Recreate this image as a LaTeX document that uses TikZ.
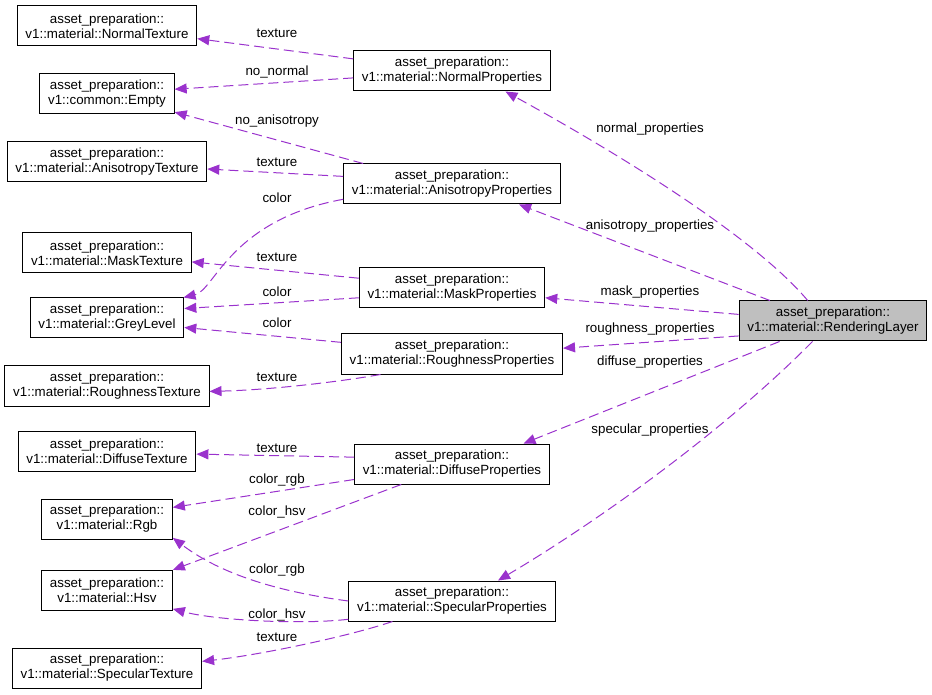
\documentclass[tikz,border=0pt]{standalone}
\usepackage{fontspec}
\setmainfont{Liberation Sans}
\usetikzlibrary{arrows.meta}
\definecolor{edgepurple}{HTML}{9A32CD}
\definecolor{layergrey}{HTML}{BFBFBF}
\newcommand{\apcls}[1]{asset\_preparation::\\v1::#1}

\begin{document}
\begin{tikzpicture}[x=0.75pt,y=-0.75pt,
  box/.style={draw=black, line width=0.75pt, fill=white, align=center,
    minimum height=30pt, inner xsep=6.2pt, font=\fontsize{10}{11.25}\selectfont},
  dep/.style={edgepurple, line width=0.75pt, dash pattern=on 7.5pt off 3.75pt,
    -{Triangle[length=9pt,width=7.5pt]}},
  lbl/.style={anchor=base, inner sep=0pt, font=\fontsize{10}{11.25}\selectfont}]

\useasboundingbox (0,0) rectangle (932,695);

% Member classes
\node[box] (ntex)  at (107,26)  {\apcls{material::NormalTexture}};
\node[box] (empty) at (107,94)  {\apcls{common::Empty}};
\node[box] (atex)  at (107,162) {\apcls{material::AnisotropyTexture}};
\node[box] (mtex)  at (107,253) {\apcls{material::MaskTexture}};
\node[box] (grey)  at (107,318) {\apcls{material::GreyLevel}};
\node[box] (rtex)  at (107,386) {\apcls{material::RoughnessTexture}};
\node[box] (dtex)  at (107,451) {\apcls{material::DiffuseTexture}};
\node[box] (rgb)   at (107,519) {\apcls{material::Rgb}};
\node[box] (hsv)   at (107,590) {\apcls{material::Hsv}};
\node[box] (stex)  at (107,668) {\apcls{material::SpecularTexture}};

% Property classes
\node[box] (nprop) at (452,71)  {\apcls{material::NormalProperties}};
\node[box] (aprop) at (452,184) {\apcls{material::AnisotropyProperties}};
\node[box] (mprop) at (452,288) {\apcls{material::MaskProperties}};
\node[box] (rprop) at (452,354) {\apcls{material::RoughnessProperties}};
\node[box] (dprop) at (452,464) {\apcls{material::DiffuseProperties}};
\node[box] (sprop) at (452,601) {\apcls{material::SpecularProperties}};

% Rendering layer
\node[box, fill=layergrey] (layer) at (833,321) {\apcls{material::RenderingLayer}};

% Edges from the property classes
\draw[dep] (nprop.173) -- (ntex.352);
\draw[dep] (nprop.184) -- (empty.4);
\draw[dep] (aprop.167) -- (empty.345);
\draw[dep] (aprop.176) -- (atex.356);
\draw[dep] (aprop.188) .. controls (230,220) and (215,290) .. (grey.15);
\draw[dep] (mprop.174) -- (mtex.354);
\draw[dep] (mprop.186) -- (grey.7);
\draw[dep] (rprop.174) -- (grey.353);
\draw[dep] (rprop.196) .. controls (338,382) and (269,390) .. (rtex.357);
\draw[dep] (dprop.176) -- (dtex.358);
\draw[dep] (dprop.189) -- (rgb.10);
\draw[dep] (dprop.202) -- (hsv.17);
\draw[dep] (sprop.180) .. controls (280,592) and (222,575) .. (rgb.344);
\draw[dep] (sprop.190) .. controls (300,625) and (214,620) .. (hsv.344);
\draw[dep] (sprop.199) .. controls (350,636) and (260,655) .. (stex.4);

% Edges from the rendering layer
\draw[dep] (layer.141) .. controls (750,232) and (601,144) .. (nprop.339);
\draw[dep] (layer.162) -- (aprop.343);
\draw[dep] (layer.176) -- (mprop.354);
\draw[dep] (layer.189) -- (rprop.3);
\draw[dep] (layer.201) -- (dprop.16);
\draw[dep] (layer.225) .. controls (725,430) and (600,520) .. (sprop.24);

% Labels
\node[lbl] (lntex)  at (277,38)  {texture};
\node[lbl] (lnemp)  at (277,76)  {no\_normal};
\node[lbl] (laemp)  at (277,125) {no\_anisotropy};
\node[lbl] (latex)  at (277,167) {texture};
\node[lbl] (lagrey) at (277,203) {color};
\node[lbl] (lmtex)  at (277,262) {texture};
\node[lbl] (lmgrey) at (277,297) {color};
\node[lbl] (lrgrey) at (277,328) {color};
\node[lbl] (lrtex)  at (277,382) {texture};
\node[lbl] (ldtex)  at (277,452) {texture};
\node[lbl] (ldrgb)  at (277,483) {color\_rgb};
\node[lbl] (ldhsv)  at (277,515) {color\_hsv};
\node[lbl] (lsrgb)  at (277,573) {color\_rgb};
\node[lbl] (lshsv)  at (277,618) {color\_hsv};
\node[lbl] (lstex)  at (277,641) {texture};

\node[lbl] (lnprop) at (650,133) {normal\_properties};
\node[lbl] (laprop) at (650,230) {anisotropy\_properties};
\node[lbl] (lmprop) at (650,296) {mask\_properties};
\node[lbl] (lrprop) at (650,333) {roughness\_properties};
\node[lbl] (ldprop) at (650,365) {diffuse\_properties};
\node[lbl] (lsprop) at (650,433) {specular\_properties};

\end{tikzpicture}
\end{document}
